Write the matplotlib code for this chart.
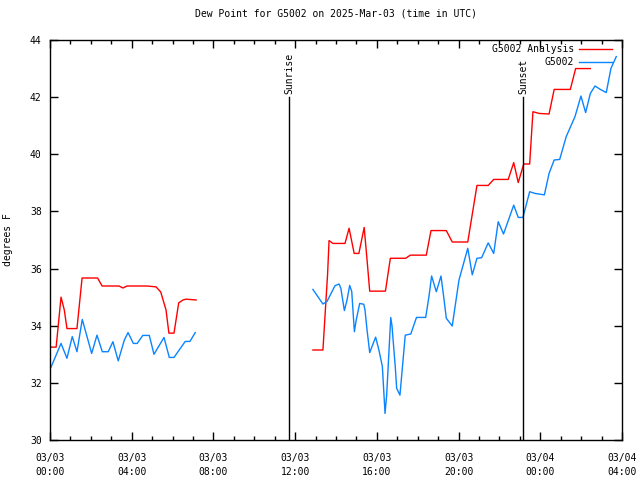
import numpy as np
import pandas as pd
import matplotlib
matplotlib.use('Agg')
import matplotlib.pyplot as plt
import matplotlib.dates as mdates

# hours after 2025-03-03 00:00 UTC, dew point in degrees F
ana_h1 = [0.05, 0.3, 0.54, 0.7, 0.83, 1.32, 1.57, 2.33, 2.55, 3.38, 3.57, 3.77, 4.75, 5.19,
          5.42, 5.68, 5.82, 6.07, 6.3, 6.51, 6.66, 7.15]
ana_v1 = [33.25, 33.25, 35.0, 34.55, 33.9, 33.9, 35.67, 35.67, 35.39, 35.39, 35.32, 35.39, 35.39, 35.36,
          35.18, 34.55, 33.74, 33.74, 34.8, 34.9, 34.93, 34.9]
ana_h2 = [12.87, 13.36, 13.46, 13.59, 13.66, 13.85, 14.44, 14.64, 14.89, 15.12, 15.38, 15.52, 15.65,
          16.42, 16.66, 17.41, 17.64, 18.42, 18.65, 19.4, 19.69, 20.45, 20.9, 21.45, 21.72, 22.43,
          22.7, 22.92, 23.19, 23.48, 23.64, 23.94, 24.43, 24.68, 25.47, 25.73, 26.45]
ana_v2 = [33.15, 33.15, 34.32, 35.83, 36.98, 36.88, 36.88, 37.41, 36.53, 36.53, 37.44, 36.3, 35.21,
          35.21, 36.36, 36.36, 36.47, 36.47, 37.33, 37.33, 36.93, 36.93, 38.91, 38.91, 39.12, 39.12,
          39.71, 39.01, 39.66, 39.66, 41.49, 41.43, 41.41, 42.27, 42.27, 43.0, 43.0]

obs_h1 = [0.05, 0.54, 0.83, 1.09, 1.32, 1.58, 2.04, 2.3, 2.56, 2.85, 3.08, 3.34, 3.64, 3.82, 4.08,
          4.27, 4.54, 4.86, 5.09, 5.58, 5.84, 6.07, 6.62, 6.85, 7.11]
obs_v1 = [32.55, 33.38, 32.86, 33.62, 33.09, 34.22, 33.03, 33.67, 33.09, 33.09, 33.44, 32.77, 33.5,
          33.76, 33.38, 33.38, 33.66, 33.66, 33.0, 33.59, 32.89, 32.89, 33.45, 33.45, 33.76]
obs_h2 = [12.87, 13.36, 13.56, 13.95, 14.15, 14.24, 14.41, 14.54, 14.67, 14.77, 14.9, 14.99, 15.16,
          15.36, 15.42, 15.52, 15.65, 15.94, 16.1, 16.27, 16.4, 16.48, 16.68, 16.74, 16.9, 16.97,
          17.13, 17.39, 17.66, 17.94, 18.39, 18.55, 18.68, 18.91, 19.14, 19.27, 19.4, 19.69, 20.02,
          20.45, 20.67, 20.9, 21.13, 21.45, 21.72, 21.94, 22.2, 22.7, 22.92, 23.15, 23.48, 23.74,
          24.2, 24.43, 24.68, 24.95, 25.27, 25.7, 25.99, 26.22, 26.45, 26.68, 26.94, 27.23, 27.46, 27.72]
obs_v2 = [35.27, 34.76, 34.85, 35.4, 35.46, 35.3, 34.53, 34.9, 35.41, 35.2, 33.79, 34.2, 34.78,
          34.75, 34.55, 33.85, 33.06, 33.6, 33.15, 32.57, 30.93, 31.57, 34.29, 34.0, 32.57, 31.81,
          31.57, 33.67, 33.71, 34.29, 34.29, 35.02, 35.74, 35.19, 35.74, 35.02, 34.26, 33.99, 35.6,
          36.71, 35.78, 36.36, 36.38, 36.9, 36.53, 37.64, 37.21, 38.22, 37.79, 37.79, 38.69, 38.63,
          38.58, 39.33, 39.8, 39.82, 40.62, 41.32, 42.04, 41.46, 42.13, 42.39, 42.27, 42.16, 43.01, 43.42]

sunrise_h = 11.7
sunset_h = 23.15

t0 = pd.Timestamp('2025-03-03 00:00')
def to_time(hours):
    return t0 + pd.to_timedelta(np.array(hours), unit='h')

plt.rcParams['font.family'] = ['DejaVu Sans Mono']
plt.rcParams['font.size'] = 7

fig = plt.figure(figsize=(6.4, 4.8), dpi=100)
ax = fig.add_axes([50/640, 40/480, 572/640, 400/480])

red = '#ff0000'
blue = '#0a84ff'
ax.plot(to_time(ana_h1), ana_v1, color=red, lw=1, label='G5002 Analysis')
ax.plot(to_time(ana_h2), ana_v2, color=red, lw=1)
ax.plot(to_time(obs_h1), obs_v1, color=blue, lw=1, label='G5002')
ax.plot(to_time(obs_h2), obs_v2, color=blue, lw=1)

for h, name in [(sunrise_h, 'Sunrise'), (sunset_h, 'Sunset')]:
    t = to_time([h])[0]
    ax.plot([t, t], [30, 42.0], color='black', lw=1)
    ax.text(t, 42.1, name, rotation=90, ha='center', va='bottom', fontsize=7)

ax.set_xlim(t0, t0 + pd.Timedelta(hours=28))
ax.set_ylim(30, 44)
ax.set_yticks(np.arange(30, 45, 2))
ax.xaxis.set_major_locator(mdates.HourLocator(byhour=[0, 4, 8, 12, 16, 20]))
ax.xaxis.set_minor_locator(mdates.HourLocator())
ax.xaxis.set_major_formatter(mdates.DateFormatter('%m/%d\n%H:%M'))
ax.tick_params(which='both', direction='in', top=True, right=True, width=1, labelsize=7)
ax.tick_params(which='major', length=6, pad=9)
ax.tick_params(axis='y', which='major', pad=6)
ax.tick_params(which='minor', length=3)
for lbl in ax.get_xticklabels():
    lbl.set_linespacing(1.6)
for s in ax.spines.values():
    s.set_linewidth(1)

ax.set_ylabel('degrees F', fontsize=7, labelpad=12)
ax.set_title('Dew Point for G5002 on 2025-Mar-03 (time in UTC)', fontsize=7, pad=17)

leg = ax.legend(loc='upper right', frameon=False, fontsize=7, markerfirst=False,
                handlelength=3.4, handletextpad=0.5, labelspacing=0.35,
                borderaxespad=0, borderpad=0,
                bbox_to_anchor=(1 - 10/572, 1 - 4/400))

fig.savefig('out.png', dpi=100)
